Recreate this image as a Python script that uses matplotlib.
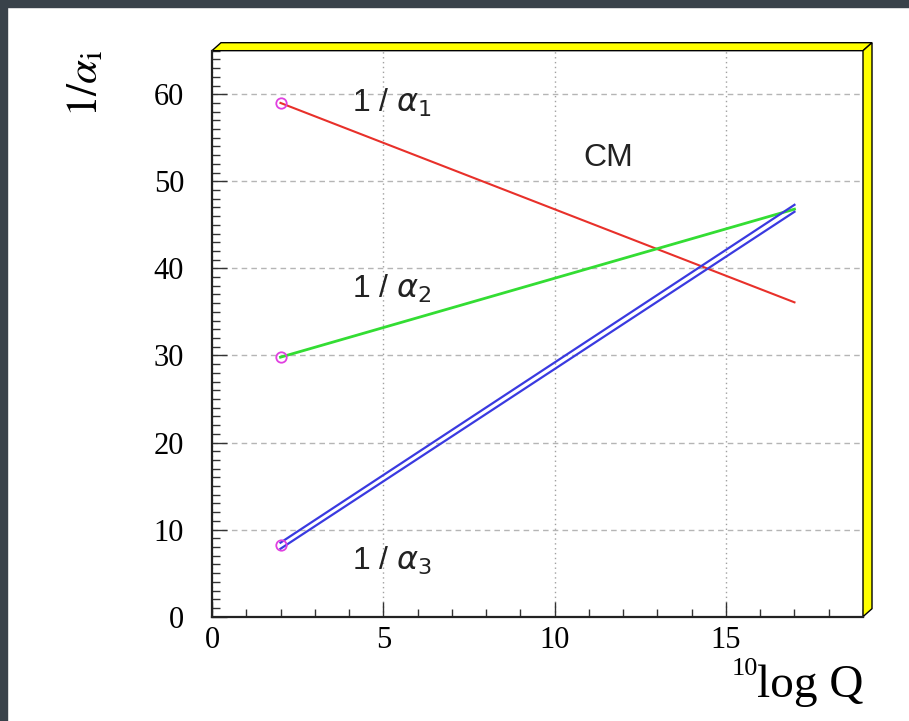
import matplotlib.pyplot as plt
from matplotlib.patches import Polygon, Rectangle
from matplotlib.ticker import MultipleLocator

# scale end points (10log Q) and 1/alpha values
logq = [2, 17]
inv_a1 = [59.0, 36.1]
inv_a2 = [29.8, 46.8]
inv_a3_lo = [7.8, 46.5]
inv_a3_hi = [8.5, 47.3]
start_vals = [59.0, 29.8, 8.2]
xticks = [0, 5, 10, 15]
yticks = [0, 10, 20, 30, 40, 50, 60]

fig = plt.figure(figsize=(9.09, 7.21), dpi=100)
ax = fig.add_axes([0.2332, 0.1447, 0.7162, 0.785])

# screenshot border (dark strips top and left)
fig.patches.append(Rectangle((0, 1 - 7/721), 1, 7/721, transform=fig.transFigure,
                             color='#39424a', zorder=0))
fig.patches.append(Rectangle((0, 0), 7/909, 1, transform=fig.transFigure,
                             color='#39424a', zorder=0))

ax.plot(logq, inv_a1, color='#e8302a', lw=1.5, zorder=3)
ax.plot(logq, inv_a2, color='#33dd33', lw=2, zorder=3)
ax.plot(logq, inv_a3_lo, color='#3a3ae0', lw=1.6, zorder=3)
ax.plot(logq, inv_a3_hi, color='#3a3ae0', lw=1.6, zorder=3)
ax.plot([logq[0]] * 3, start_vals, ls='none', marker='o', ms=7.5, mfc='none',
        mec='#e040e0', mew=1.3, zorder=4)

ax.set_xlim(0, 19)
ax.set_ylim(0, 65)
ax.set_xticks(xticks)
ax.set_yticks(yticks)
ax.xaxis.set_minor_locator(MultipleLocator(1))
ax.yaxis.set_minor_locator(MultipleLocator(1))
ax.tick_params(which='both', direction='in', top=False, right=False,
               color='#333333', width=1)
ax.tick_params(which='major', length=11, labelsize=22)
ax.tick_params(which='minor', length=5.5)
ax.tick_params(axis='y', which='major', pad=20)
ax.tick_params(axis='x', which='major', pad=7)
for lab in ax.get_xticklabels() + ax.get_yticklabels():
    lab.set_fontfamily('Liberation Serif')

ax.set_axisbelow(True)
ax.yaxis.grid(True, ls=(0, (4, 3)), color='#b5b5b5', lw=1)
ax.xaxis.grid(True, ls=(0, (1, 2.5)), color='#a0a0a0', lw=1)

for s in ['top', 'right']:
    ax.spines[s].set_visible(False)
for s in ['left', 'bottom']:
    ax.spines[s].set_linewidth(1.6)
    ax.spines[s].set_color('#222222')

# ROOT style 3D yellow frame
dx, dy = 9/651, 8/566
top = Polygon([(0, 1), (1, 1), (1 + dx, 1 + dy), (dx, 1 + dy)], closed=True,
              transform=ax.transAxes, fc='#ffff00', ec='black', lw=1, clip_on=False)
right = Polygon([(1, 0), (1 + dx, dy), (1 + dx, 1 + dy), (1, 1)], closed=True,
                transform=ax.transAxes, fc='#ffff00', ec='black', lw=1, clip_on=False)
ax.add_patch(top)
ax.add_patch(right)

lab_kw = dict(fontsize=23, fontfamily='Liberation Sans', math_fontfamily='dejavusans',
              color='#222222', va='baseline')
ax.text(4.1, 58.0, r'1 / $\alpha_1$', **lab_kw)
ax.text(4.1, 36.6, r'1 / $\alpha_2$', **lab_kw)
ax.text(4.1, 5.4, r'1 / $\alpha_3$', **lab_kw)
ax.text(10.83, 51.7, 'CM', fontsize=23, fontfamily='Liberation Sans',
        color='#222222', va='baseline')

fig.text(0.0935, 0.9307, r'$1/\alpha_{\mathrm{i}}$', rotation=90, ha='center', va='top',
         fontsize=31, math_fontfamily='stix')
logq_txt = fig.text(0.9494, 1 - 697/721, 'log Q', ha='right', va='baseline',
                    fontsize=34, fontfamily='Liberation Serif')
fig.canvas.draw()
bb = logq_txt.get_window_extent().transformed(fig.transFigure.inverted())
fig.text(bb.x0 + 1/909, 1 - 675/721, '10', ha='right', va='baseline',
         fontsize=19, fontfamily='Liberation Serif')

fig.savefig('out.png', dpi=100)
